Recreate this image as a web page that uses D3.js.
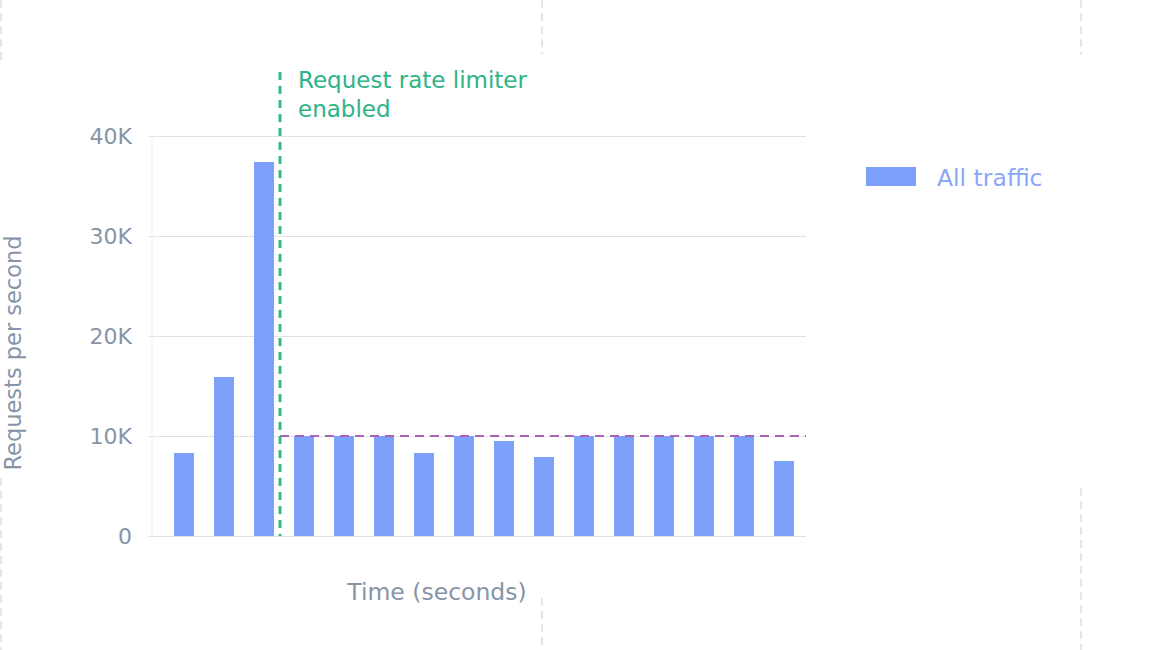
<!DOCTYPE html>
<html>
<meta charset="utf-8">
<head>
<title>Request rate limiter</title>
<style>
body { margin: 0; background: #fff; }
svg { display: block; font-family: "DejaVu Sans", sans-serif; }
.axisText { fill: #8794a8; }
.grid line { stroke: #dfe2e8; }
</style>
</head>
<body>
<script src="https://d3js.org/d3.v7.min.js"></script>
<script>

// data
var seconds = d3.range(1, 17);
var requests = [8300, 15900, 37400, 10000, 10000, 10000, 8300, 10000,
                9500, 7900, 10000, 10000, 10000, 10000, 10000, 7500];
var yTicks = [0, 10000, 20000, 30000, 40000];
var limit = 10000;
var limiterAt = 3; // limiter switched on after the 3rd second
var seriesName = "All traffic";

var W = 1156, H = 650;
var margin = {top: 136, right: 350, bottom: 114, left: 152},
    width = W - margin.left - margin.right,
    height = H - margin.top - margin.bottom;

var svg = d3.select("body").append("svg")
    .attr("width", W)
    .attr("height", H);

// faint dashed guides in the page background
[[1, 0, 64], [1, 478, 650], [542, 0, 54], [542, 598, 650], [1081, 0, 55], [1081, 488, 650]]
  .forEach(function(g) {
    svg.append("line")
      .attr("x1", g[0]).attr("x2", g[0])
      .attr("y1", g[1]).attr("y2", g[2])
      .style("stroke", "#e4e6ec")
      .style("stroke-width", 2)
      .style("stroke-dasharray", "8,5");
  });

var chart = svg.append("g")
    .attr("transform", "translate(" + margin.left + "," + margin.top + ")");

var x = d3.scaleBand()
    .domain(seconds)
    .range([12, width - 2])
    .paddingInner(0.5)
    .paddingOuter(0.25);

var y = d3.scaleLinear()
    .domain([0, 40000])
    .range([height, 0]);

// grid lines
chart.append("g")
    .attr("class", "grid")
    .call(d3.axisLeft(y).tickValues(yTicks).tickSize(-width).tickFormat(""))
    .call(g => g.select(".domain").remove());

// left edge of plot
chart.append("line")
    .attr("x1", 0).attr("x2", 0)
    .attr("y1", 0).attr("y2", height)
    .style("stroke", "#eceef2");

// y axis labels
var yAxis = chart.append("g")
    .call(d3.axisLeft(y).tickValues(yTicks).tickSize(4).tickPadding(16)
      .tickFormat(d => d === 0 ? "0" : (d / 1000) + "K"));
yAxis.select(".domain").remove();
yAxis.selectAll("line").style("stroke", "#dfe2e8");
yAxis.selectAll("text")
    .attr("class", "axisText")
    .style("font-size", "22px")
    .style("font-family", "'DejaVu Sans', sans-serif");

// bars
chart.selectAll(".bar")
    .data(requests)
  .enter().append("rect")
    .attr("class", "bar")
    .attr("x", (d, i) => x(seconds[i]))
    .attr("width", x.bandwidth())
    .attr("y", d => y(d))
    .attr("height", d => height - y(d))
    .style("fill", "#7da0fb");

// limit line
var lx = x(limiterAt) + x.bandwidth() + 6;
chart.append("line")
    .attr("x1", lx).attr("x2", width)
    .attr("y1", y(limit)).attr("y2", y(limit))
    .style("stroke", "#a964b9")
    .style("stroke-width", 2)
    .style("stroke-dasharray", "9,6");

// limiter annotation
chart.append("line")
    .attr("x1", lx).attr("x2", lx)
    .attr("y1", -64).attr("y2", height)
    .style("stroke", "#35b88a")
    .style("stroke-width", 3)
    .style("stroke-dasharray", "8,6");

var note = chart.append("text")
    .attr("x", lx + 18)
    .attr("y", -48)
    .style("fill", "#2fb386")
    .style("font-size", "23px");
note.append("tspan").attr("x", lx + 18).text("Request rate limiter");
note.append("tspan").attr("x", lx + 18).attr("dy", 29).text("enabled");

// axis titles
chart.append("text")
    .attr("class", "axisText")
    .attr("x", 285)
    .attr("y", height + 64)
    .style("text-anchor", "middle")
    .style("font-size", "23.5px")
    .text("Time (seconds)");

svg.append("text")
    .attr("class", "axisText")
    .attr("transform", "translate(21," + 353 + ") rotate(-90)")
    .style("text-anchor", "middle")
    .style("font-size", "22.5px")
    .text("Requests per second");

// legend
var legend = svg.append("g")
    .attr("transform", "translate(866,167)");
legend.append("rect")
    .attr("width", 50)
    .attr("height", 19)
    .style("fill", "#7da0fb");
legend.append("text")
    .attr("x", 71)
    .attr("y", 19)
    .style("fill", "#8aa7f8")
    .style("font-size", "23.5px")
    .text(seriesName);

</script>
</body>
</html>
